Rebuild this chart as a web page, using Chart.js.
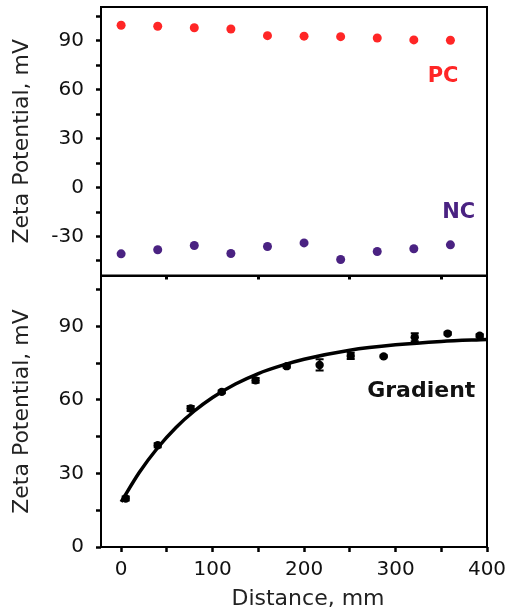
<!DOCTYPE html>
<html><head><meta charset="utf-8">
<script src="https://cdn.jsdelivr.net/npm/chart.js@4.4.1/dist/chart.umd.min.js"></script>
<style>
html,body{margin:0;padding:0;background:#fff;width:508px;height:609px;overflow:hidden}
#topC{position:absolute;left:0;top:0}
#botC{position:absolute;left:0;top:270px}
</style></head><body>
<canvas id="topC" width="508" height="280"></canvas>
<canvas id="botC" width="508" height="339"></canvas>
<script>
// ---- data ----
const TOP_X = [0, 40, 80, 120, 160, 200, 240, 280, 320, 360];
const PC_Y = [99.6, 99.0, 98.1, 97.3, 93.2, 92.9, 92.6, 91.8, 90.6, 90.4];
const NC_Y = [-40.6, -38.1, -35.5, -40.4, -36.1, -33.9, -44.1, -39.2, -37.5, -35.1];

const GRAD_X = [5, 40, 76, 110, 147, 181, 217, 251, 287, 321, 357, 392];
const GRAD_Y = [19.8, 41.5, 56.5, 63.3, 68.0, 73.8, 74.3, 78.0, 77.8, 85.6, 87.1, 86.2];
const GRAD_ERR = [0.8, 0.8, 1.0, 0.6, 1.0, 0.6, 2.3, 1.3, 0.5, 1.6, 0.5, 0.6];

const FIT_X = [0, 20, 40, 60, 80, 100, 125, 150, 175, 200, 250, 300, 350, 400];
const FIT_Y = [18.4, 30.5, 40.5, 48.8, 55.5, 61.0, 66.5, 70.8, 74.0, 76.6, 80.3, 82.5, 83.9, 84.7];

const TOP_Y_TICKS = [-45, -30, -15, 0, 15, 30, 45, 60, 75, 90, 105];
const BOT_Y_TICKS = [0, 15, 30, 45, 60, 75, 90, 105];
const TOP_X_TICKS = [50, 150, 250, 350];
const BOT_X_TICKS = [0, 50, 100, 150, 200, 250, 300, 350, 400];

// ---- styles ----
const FONT = 'DejaVu Sans';
const PC_COLOR = 'rgb(255,38,38)';
const NC_COLOR = 'rgb(74,34,130)';

const pts = (xs, ys) => xs.map((x, i) => ({x, y: ys[i]}));

const frame = {
  id: 'frame',
  beforeDatasetsDraw(chart) {
    const {ctx, chartArea: a} = chart;
    ctx.save();
    ctx.strokeStyle = '#000';
    ctx.lineWidth = 2;
    ctx.strokeRect(a.left, a.top, a.right - a.left, a.bottom - a.top);
    ctx.restore();
  }
};

const errorBars = {
  id: 'errorBars',
  afterDatasetsDraw(chart) {
    const {ctx, scales: {x, y}} = chart;
    chart.data.datasets.forEach(ds => {
      if (!ds.errors) return;
      ctx.save();
      ctx.strokeStyle = '#000';
      ctx.lineWidth = 2;
      ds.data.forEach((p, i) => {
        const e = ds.errors[i];
        const px = x.getPixelForValue(p.x);
        const y1 = y.getPixelForValue(p.y + e);
        const y2 = y.getPixelForValue(p.y - e);
        ctx.beginPath();
        ctx.moveTo(px, y1); ctx.lineTo(px, y2);
        ctx.moveTo(px - 4, y1); ctx.lineTo(px + 4, y1);
        ctx.moveTo(px - 4, y2); ctx.lineTo(px + 4, y2);
        ctx.stroke();
      });
      ctx.restore();
    });
  }
};

function notes(items) {
  return {
    id: 'notes',
    afterDraw(chart) {
      const {ctx, scales: {x, y}} = chart;
      ctx.save();
      items.forEach(it => {
        ctx.font = it.font;
        ctx.fillStyle = it.color;
        ctx.textAlign = it.align || 'center';
        ctx.textBaseline = 'alphabetic';
        const px = it.px != null ? it.px : x.getPixelForValue(it.x);
        const py = it.py != null ? it.py : y.getPixelForValue(it.y);
        ctx.fillText(it.text, px, py);
      });
      ctx.restore();
    }
  };
}

const tickFont = {family: FONT, size: 20};
const titleFont = {family: FONT, size: 22};

function noPad(s) { s.paddingTop = 0; s.paddingBottom = 0; s.paddingLeft = 0; s.paddingRight = 0; }

function yScale(min, max, ticksArr) {
  return {
    type: 'linear', min, max,
    afterBuildTicks: s => { s.ticks = ticksArr.map(v => ({value: v})); },
    afterFit: s => { s.width = 101; noPad(s); },
    ticks: {font: tickFont, color: '#111', padding: 12, autoSkip: false,
      callback: v => (v % 30 === 0 ? String(v) : '')},
    grid: {drawOnChartArea: false, tickLength: 5, tickWidth: 2.5, tickColor: '#000'},
    border: {display: false},
    title: {display: true, text: 'Zeta Potential, mV', font: titleFont, color: '#222', padding: {top: 9}}
  };
}

// ---- top chart ----
new Chart(document.getElementById('topC'), {
  type: 'scatter',
  data: {
    datasets: [
      {label: 'PC', data: pts(TOP_X, PC_Y), backgroundColor: PC_COLOR, borderWidth: 0, pointRadius: 4.5},
      {label: 'NC', data: pts(TOP_X, NC_Y), backgroundColor: NC_COLOR, borderWidth: 0, pointRadius: 4.5}
    ]
  },
  options: {
    responsive: false, animation: false,
    layout: {padding: {top: 7, right: 21, left: 0, bottom: 0}},
    plugins: {legend: {display: false}, tooltip: {enabled: false}},
    scales: {
      x: {
        type: 'linear', min: -22, max: 400,
        afterBuildTicks: s => { s.ticks = TOP_X_TICKS.map(v => ({value: v})); },
        afterFit: s => { s.height = 4; noPad(s); },
        ticks: {display: false},
        grid: {drawOnChartArea: false, tickLength: 4, tickWidth: 3, tickColor: '#000'},
        border: {display: false}
      },
      y: yScale(-53.9, 110.8, TOP_Y_TICKS)
    }
  },
  plugins: [frame, notes([
    {text: 'PC', x: 352, y: 64.7, color: PC_COLOR, font: 'bold 21px "' + FONT + '"'},
    {text: 'NC', x: 369, y: -18.6, color: NC_COLOR, font: 'bold 21px "' + FONT + '"'}
  ])]
});

// ---- bottom chart ----
new Chart(document.getElementById('botC'), {
  type: 'scatter',
  data: {
    datasets: [
      {label: 'Fit', data: pts(FIT_X, FIT_Y), showLine: true, borderColor: '#000', borderWidth: 3.5,
       pointRadius: 0, tension: 0.4, cubicInterpolationMode: 'monotone', fill: false},
      {label: 'Gradient', data: pts(GRAD_X, GRAD_Y), errors: GRAD_ERR, backgroundColor: '#000',
       borderWidth: 0, pointRadius: 4.2}
    ]
  },
  options: {
    responsive: false, animation: false,
    layout: {padding: {top: 6, right: 21, left: 0, bottom: 0}},
    plugins: {legend: {display: false}, tooltip: {enabled: false}},
    scales: {
      x: {
        type: 'linear', min: -22, max: 400,
        afterBuildTicks: s => { s.ticks = BOT_X_TICKS.map(v => ({value: v})); },
        afterFit: s => { s.height = 62; noPad(s); },
        ticks: {font: tickFont, color: '#111', padding: 6, autoSkip: false, maxRotation: 0,
          callback: v => (v % 100 === 0 ? String(v) : '')},
        grid: {drawOnChartArea: false, tickLength: 5, tickWidth: 2.5, tickColor: '#000'},
        border: {display: false}
      },
      y: yScale(0, 110.6, BOT_Y_TICKS)
    }
  },
  plugins: [frame, errorBars, notes([
    {text: 'Gradient', x: 269, y: 61.2, color: '#111', align: 'left', font: 'bold 22px "' + FONT + '"'},
    {text: 'Distance, mm', px: 308, py: 335, color: '#222', font: '22px "' + FONT + '"'}
  ])]
});
</script>
</body></html>
